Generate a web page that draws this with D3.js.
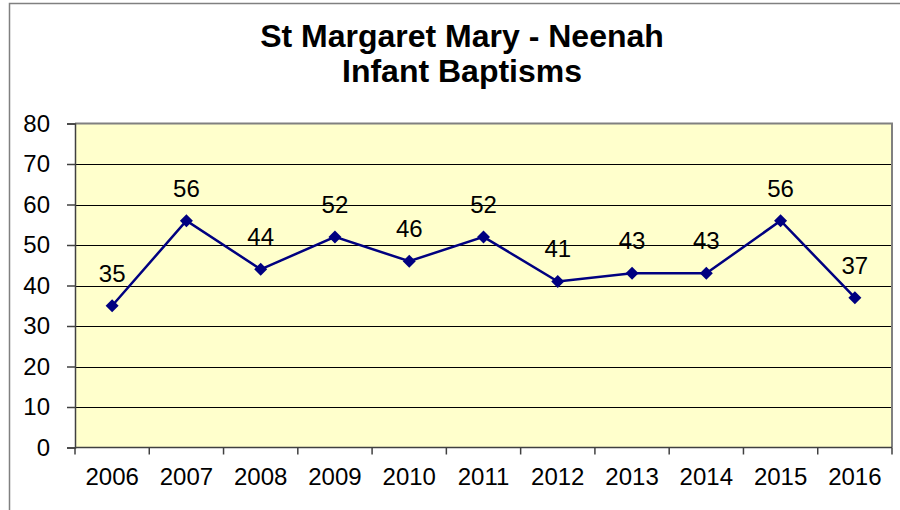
<!DOCTYPE html>
<html lang="en">
<head>
<meta charset="UTF-8">
<script src="https://d3js.org/d3.v7.min.js"></script>
<style>
  body { margin: 0; background: #fff; }
  svg { display: block; font-family: Arial, "Liberation Sans", sans-serif; }
</style>
</head>
<body>
<div id="chart"></div>
<script>
// chart data
const years = ["2006", "2007", "2008", "2009", "2010", "2011", "2012", "2013", "2014", "2015", "2016"]
const baptisms = [35, 56, 44, 52, 46, 52, 41, 43, 43, 56, 37]
const yTicks = [0, 10, 20, 30, 40, 50, 60, 70, 80]
const titleLines = ["St Margaret Mary - Neenah", "Infant Baptisms"]

const width = 900
const height = 510
const plot = {left: 75, right: 892, top: 123.5, bottom: 447.5}

const svg = d3.select("#chart")
    .append("svg")
    .attr("width", width)
    .attr("height", height)

// outer chart frame
svg.append("rect")
    .attr("x", 9.5).attr("y", 3.5)
    .attr("width", 1000).attr("height", 1000)
    .attr("fill", "#fff")
    .attr("stroke", "#808080")
    .attr("stroke-width", 1.5)

// scales
const x = d3.scaleBand()
    .domain(years)
    .range([plot.left, plot.right])

const y = d3.scaleLinear()
    .domain([0, 80])
    .range([plot.bottom, plot.top])

// plot background
svg.append("rect")
    .attr("x", plot.left).attr("y", plot.top)
    .attr("width", plot.right - plot.left)
    .attr("height", plot.bottom - plot.top)
    .attr("fill", "#FFFFCC")

// gridlines
svg.append("g")
    .selectAll("line")
    .data(yTicks.filter(d => d > 0 && d < 80))
    .join("line")
      .attr("x1", plot.left).attr("x2", plot.right)
      .attr("y1", d => Math.round(y(d)) + 0.5)
      .attr("y2", d => Math.round(y(d)) + 0.5)
      .attr("stroke", "#000")
      .attr("stroke-width", 1)

// plot border, top and right
svg.append("path")
    .attr("d", `M${plot.left},${plot.top} H${plot.right} V${plot.bottom}`)
    .attr("fill", "none")
    .attr("stroke", "#808080")
    .attr("stroke-width", 2)

// y axis
const yAxis = svg.append("g")
    .attr("transform", `translate(${plot.left},0)`)
    .call(d3.axisLeft(y).tickValues(yTicks).tickSize(8).tickPadding(17))
yAxis.select(".domain").attr("stroke", "#404040").attr("stroke-width", 1.5)
yAxis.selectAll(".tick line").attr("stroke", "#404040").attr("stroke-width", 1.5)
yAxis.selectAll("text")
    .attr("font-size", 24)
    .attr("fill", "#000")
    .attr("font-family", "Arial, 'Liberation Sans', sans-serif")

// x axis, ticks at category boundaries
const xAxisG = svg.append("g")
    .attr("transform", `translate(0,${plot.bottom})`)
xAxisG.append("line")
    .attr("x1", plot.left).attr("x2", plot.right)
    .attr("stroke", "#404040").attr("stroke-width", 1.5)
xAxisG.selectAll(".tk")
    .data(years.map(d => x(d)).concat([plot.right]))
    .join("line")
      .attr("class", "tk")
      .attr("x1", d => d).attr("x2", d => d)
      .attr("y1", 0).attr("y2", 7)
      .attr("stroke", "#404040").attr("stroke-width", 1.5)
xAxisG.selectAll("text")
    .data(years)
    .join("text")
      .attr("x", d => x(d) + x.bandwidth() / 2)
      .attr("y", 37.5)
      .attr("text-anchor", "middle")
      .attr("font-size", 24)
      .text(d => d)

// the line
const points = years.map((d, i) => ({year: d, value: baptisms[i]}))
const cx = d => x(d.year) + x.bandwidth() / 2

svg.append("path")
    .datum(points)
    .attr("fill", "none")
    .attr("stroke", "#000080")
    .attr("stroke-width", 2.5)
    .attr("d", d3.line().x(cx).y(d => y(d.value)))

// diamond markers
svg.append("g")
    .selectAll("path")
    .data(points)
    .join("path")
      .attr("transform", d => `translate(${cx(d)},${y(d.value)})`)
      .attr("d", "M0,-6.5 L6.5,0 L0,6.5 L-6.5,0 Z")
      .attr("fill", "#000080")

// value labels
svg.append("g")
    .selectAll("text")
    .data(points)
    .join("text")
      .attr("x", cx)
      .attr("y", d => y(d.value) - 24)
      .attr("text-anchor", "middle")
      .attr("font-size", 24)
      .text(d => d.value)

// title
svg.append("g")
    .selectAll("text")
    .data(titleLines)
    .join("text")
      .attr("x", 462)
      .attr("y", (d, i) => 47 + i * 35)
      .attr("text-anchor", "middle")
      .attr("font-size", 32)
      .attr("font-weight", "bold")
      .text(d => d)
</script>
</body>
</html>
